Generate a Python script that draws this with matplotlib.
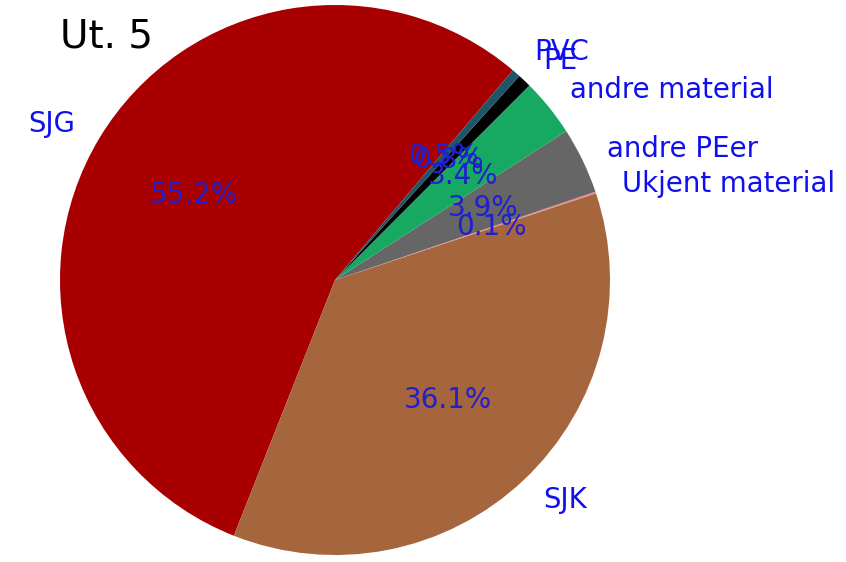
import matplotlib
matplotlib.use("Agg")
import matplotlib.pyplot as plt

labels = ["SJG", "SJK", "Ukjent material", "andre PEer", "andre material", "PE", "PVC"]
values = [55.2, 36.1, 0.1, 3.9, 3.4, 0.8, 0.5]
colors = ["#a80000", "#a5653d", "#e88a8a", "#666666", "#17a862", "#000000", "#1f5566"]

fig = plt.figure(figsize=(8.46, 5.62), dpi=100)
ax = fig.add_axes([0, 0, 1, 1])

wedges, texts, autotexts = ax.pie(
    values, labels=labels, colors=colors, startangle=49.7,
    autopct="%1.1f%%", pctdistance=0.6, labeldistance=1.1,
    textprops={"color": "#1010ee", "fontsize": 19.8},
)
for t in autotexts:
    t.set_fontsize(20)
    t.set_color("#2020cc")

ax.set_xlim(-335 / 275, 511 / 275)
ax.set_ylim(-282 / 275, 280 / 275)
ax.set_aspect("auto")
ax.axis("off")

fig.text(60 / 846, 1 - 47 / 562, "Ut. 5", fontsize=28, ha="left", va="baseline")

fig.savefig("out.png", dpi=100)
